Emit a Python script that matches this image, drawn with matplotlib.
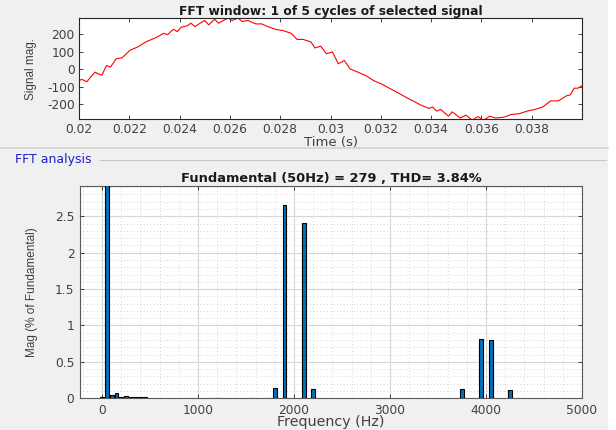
import matplotlib
matplotlib.use("Agg")
import matplotlib.pyplot as plt
from matplotlib.ticker import MultipleLocator
from matplotlib.lines import Line2D

plt.rcParams['font.family'] = ['DejaVu Sans']
plt.rcParams['axes.unicode_minus'] = False
NARROW = ['Liberation Sans Narrow', 'Liberation Sans', 'DejaVu Sans']

# ---- time-domain signal ----
sig_t = [0.02000, 0.02011, 0.02031, 0.02063, 0.02078, 0.02091, 0.02109, 0.02125,
         0.02148, 0.02172, 0.02203, 0.02234, 0.02266, 0.02289, 0.02313, 0.02336,
         0.02352, 0.02375, 0.02391, 0.02406, 0.02430, 0.02445, 0.02461, 0.02477,
         0.02500, 0.02516, 0.02539, 0.02555, 0.02578, 0.02594, 0.02609, 0.02633,
         0.02648, 0.02672, 0.02703, 0.02727, 0.02750, 0.02781, 0.02813, 0.02844,
         0.02867, 0.02891, 0.02922, 0.02938, 0.02961, 0.02984, 0.03008, 0.03031,
         0.03055, 0.03078, 0.03109, 0.03141, 0.03172, 0.03203, 0.03234, 0.03266,
         0.03297, 0.03328, 0.03359, 0.03391, 0.03406, 0.03422, 0.03438, 0.03469,
         0.03484, 0.03516, 0.03539, 0.03563, 0.03586, 0.03609, 0.03633, 0.03656,
         0.03688, 0.03719, 0.03750, 0.03781, 0.03813, 0.03844, 0.03875, 0.03906,
         0.03938, 0.03953, 0.03969, 0.03984, 0.04000]
sig_v = [-66, -58, -72, -17, -27, -35, 21, 12,
         60, 66, 109, 128, 157, 171, 186, 206,
         198, 229, 216, 241, 249, 264, 245, 260,
         280, 254, 287, 264, 283, 293, 280, 293,
         274, 280, 260, 260, 245, 229, 221, 206,
         171, 171, 157, 122, 132, 89, 99, 31,
         50, 2, -17, -37, -66, -85, -109, -134,
         -159, -182, -206, -225, -217, -241, -231, -270,
         -245, -280, -264, -293, -272, -293, -270, -280,
         -276, -260, -256, -241, -231, -217, -182, -182,
         -153, -148, -109, -109, -95]

time_ticks = [0.02, 0.022, 0.024, 0.026, 0.028, 0.03, 0.032, 0.034, 0.036, 0.038]
time_ticklabels = ['0.02', '0.022', '0.024', '0.026', '0.028', '0.03', '0.032',
                   '0.034', '0.036', '0.038']
sig_yticks = [-200, -100, 0, 100, 200]

# ---- harmonic spectrum (% of fundamental) ----
freq_hz = [0, 50, 100, 150, 200, 250, 300, 350, 400, 450,
           900, 1150, 1200, 1550, 1750, 1800, 1900, 2100, 2200,
           3750, 3950, 4050, 4250]
mag_pct = [0.02, 100, 0.04, 0.078, 0.015, 0.03, 0.02, 0.013, 0.012, 0.012,
           0.008, 0.008, 0.01, 0.008, 0.01, 0.14, 2.657, 2.406, 0.123,
           0.13, 0.813, 0.795, 0.114]
freq_ticks = [0, 1000, 2000, 3000, 4000, 5000]
mag_ticks = [0, 0.5, 1, 1.5, 2, 2.5]
mag_ticklabels = ['0', '0.5', '1', '1.5', '2', '2.5']

W, H = 616, 430
fig = plt.figure(figsize=(W / 100, H / 100), dpi=100)
fig.patch.set_facecolor('#f0f0f0')

tick_color = '#404040'
edge_color = '#262626'

# right white strip
fig.patches.append(plt.Rectangle((608 / W, 0), 1, 1, transform=fig.transFigure,
                                 facecolor='white', edgecolor='none', zorder=-5))
# panel separator
fig.add_artist(Line2D([0, 608 / W], [1 - 148 / H, 1 - 148 / H], transform=fig.transFigure,
                      color='#d4d4d4', lw=1.2))
fig.add_artist(Line2D([100 / W, 606 / W], [1 - 160 / H, 1 - 160 / H], transform=fig.transFigure,
                      color='#c8c8c8', lw=0.8))
fig.text(15 / W, 1 - 160 / H, 'FFT analysis', color='#2020c0', fontsize=9,
         va='center', ha='left')

# ---- top axes ----
ax1 = fig.add_axes([79 / W, 1 - 119 / H, 503 / W, 101 / H])
ax1.set_facecolor('white')
ax1.plot(sig_t, sig_v, color='red', lw=0.8)
ax1.set_xlim(0.02, 0.04)
ax1.set_ylim(-286, 294)
ax1.set_xticks(time_ticks)
ax1.set_xticklabels(time_ticklabels)
ax1.set_yticks(sig_yticks)
ax1.tick_params(direction='in', top=True, right=True, length=3, width=0.6,
                labelsize=8.8, colors=edge_color, labelcolor=tick_color, pad=3)
for s in ax1.spines.values():
    s.set_color(edge_color)
    s.set_linewidth(0.8)
ax1.set_title('FFT window: 1 of 5 cycles of selected signal', fontsize=8.8,
              fontweight='bold', pad=2, color='#1a1a1a')
ax1.set_xlabel('Time (s)', fontsize=9.5, color=tick_color, labelpad=0)
ax1.set_ylabel('Signal mag.', fontsize=8.5, color=tick_color, labelpad=7,
               family=NARROW)

# ---- bottom axes ----
ax2 = fig.add_axes([80 / W, 1 - 398.3 / H, 502 / W, 212.6 / H])
ax2.set_facecolor('white')
ax2.bar(freq_hz, mag_pct, width=40, color='#0072bd', edgecolor='black',
        linewidth=0.8, zorder=3)
ax2.set_xlim(-230, 5000)
ax2.set_ylim(0, 2.92)
ax2.set_xticks(freq_ticks)
ax2.set_yticks(mag_ticks)
ax2.set_yticklabels(mag_ticklabels)
ax2.xaxis.set_minor_locator(MultipleLocator(200))
ax2.yaxis.set_minor_locator(MultipleLocator(0.1))
ax2.grid(True, which='major', color='#d6d6d6', lw=0.8, ls='-', zorder=0)
ax2.grid(True, which='minor', color='#c8c8c8', lw=0.6, ls=(0, (1, 3)), zorder=0)
ax2.tick_params(which='major', direction='in', top=True, right=True, length=3,
                width=0.6, labelsize=8.8, colors=edge_color, labelcolor=tick_color, pad=4)
ax2.tick_params(which='minor', length=0)
for s in ax2.spines.values():
    s.set_color('#5a5a5a')
    s.set_linewidth(0.8)
ax2.set_title('Fundamental (50Hz) = 279 , THD= 3.84%', fontsize=9.4,
              fontweight='bold', pad=3, color='#1a1a1a')
ax2.set_xlabel('Frequency (Hz)', fontsize=10.3, color=tick_color, labelpad=-1)
ax2.set_ylabel('Mag (% of Fundamental)', fontsize=8.5, color=tick_color, labelpad=12,
               family=NARROW)

fig.savefig('out.png', dpi=100, facecolor=fig.get_facecolor())
